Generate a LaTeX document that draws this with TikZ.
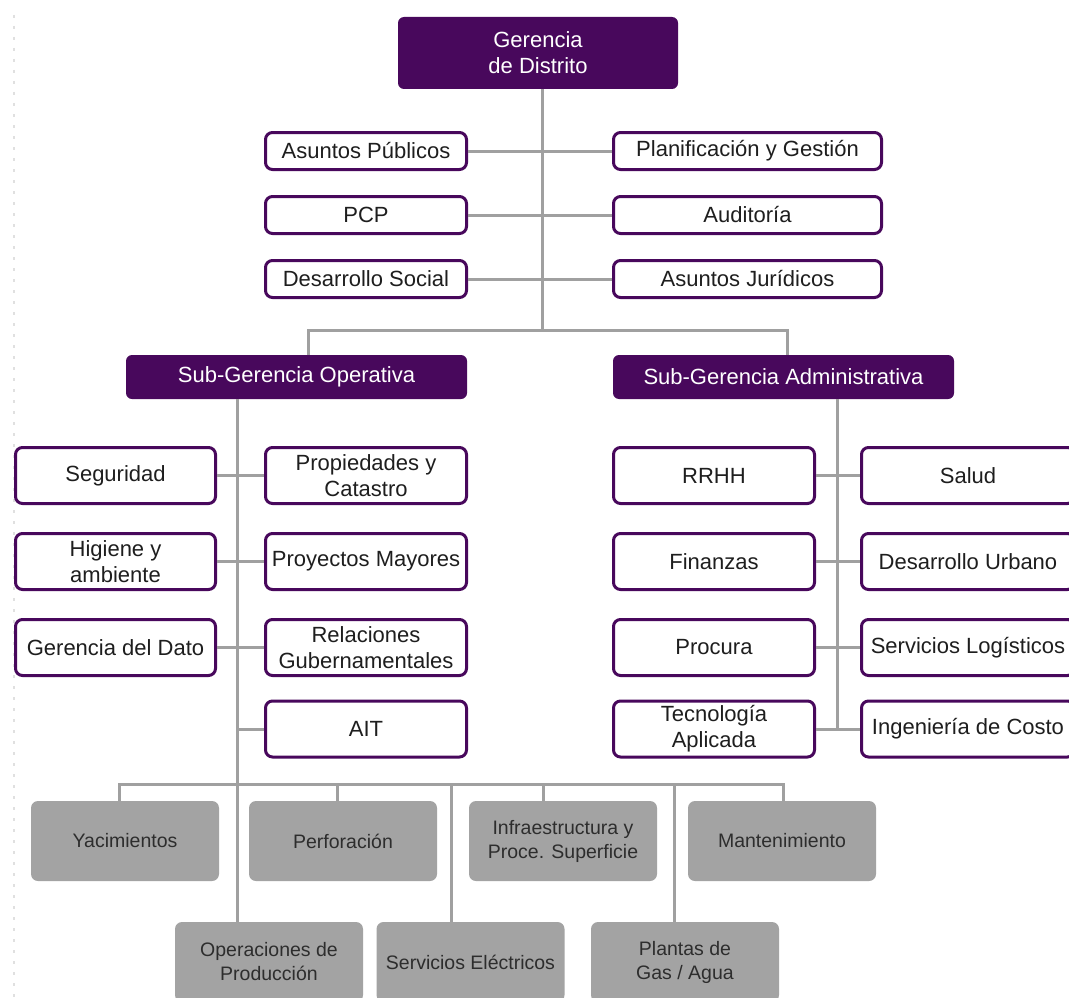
\documentclass[tikz,border=0pt]{standalone}
\usepackage{fontspec}
\setmainfont{Liberation Sans}
\definecolor{morado}{RGB}{72,8,92}
\definecolor{grislinea}{RGB}{160,160,160}
\definecolor{griscaja}{RGB}{163,163,163}
\definecolor{texto}{RGB}{30,30,30}
\definecolor{textogris}{RGB}{45,45,45}
\begin{document}
\begin{tikzpicture}[x=1pt,y=-1pt]
            \tikzstyle{jefe}=[rectangle,rounded corners=6pt,fill=morado,text=white,inner sep=0pt,align=center,font=\fontsize{22}{26}\selectfont]
            \tikzstyle{unidad}=[rectangle,rounded corners=7pt,draw=morado,line width=3pt,fill=white,text=texto,inner sep=0pt,align=center,font=\fontsize{22}{26}\selectfont]
            \tikzstyle{gerencia}=[rectangle,rounded corners=7pt,fill=griscaja,text=textogris,inner sep=0pt,align=center,minimum width=188,minimum height=80,font=\fontsize{19.5}{24}\selectfont]
            \tikzstyle{linea}=[line width=3pt,grislinea]
            \useasboundingbox (0,0) rectangle (1069,998);
            \clip (0,0) rectangle (1069,998);
            \fill[white] (0,0) rectangle (1069,998);
            \draw[line width=1.2pt,black!12,dash pattern=on 3pt off 8pt] (14,15) -- (14,998);
            \node[jefe,minimum width=280,minimum height=72] (gd) at (538,53) {Gerencia\\de Distrito};
            \node[unidad,minimum width=201,minimum height=37] (ap) at (366,151) {Asuntos Públicos};
            \node[unidad,minimum width=201,minimum height=37] (pcp) at (366,215) {PCP};
            \node[unidad,minimum width=201,minimum height=37] (ds) at (366,279) {Desarrollo Social};
            \node[unidad,minimum width=268,minimum height=37] (pg) at (747.5,151) {Planificación y Gestión};
            \node[unidad,minimum width=268,minimum height=37] (aud) at (747.5,215) {Auditoría};
            \node[unidad,minimum width=268,minimum height=37] (aj) at (747.5,279) {Asuntos Jurídicos};
            \node[jefe,minimum width=341,minimum height=44] (sgo) at (296.5,377) {Sub-Gerencia Operativa};
            \node[jefe,minimum width=341,minimum height=44] (sga) at (783.5,377) {Sub-Gerencia Administrativa};
            \node[unidad,minimum width=200,minimum height=56] (seg) at (115.5,475.5) {Seguridad};
            \node[unidad,minimum width=200,minimum height=56] (hig) at (115.5,561.5) {Higiene y\\ambiente};
            \node[unidad,minimum width=200,minimum height=56] (gdd) at (115.5,647.5) {Gerencia del Dato};
            \node[unidad,minimum width=201,minimum height=56] (prop) at (366,475.5) {Propiedades y\\Catastro};
            \node[unidad,minimum width=201,minimum height=56] (pm) at (366,561.5) {Proyectos Mayores};
            \node[unidad,minimum width=201,minimum height=56] (rg) at (366,647.5) {Relaciones\\Gubernamentales};
            \node[unidad,minimum width=201,minimum height=56] (ait) at (366,729) {AIT};
            \node[unidad,minimum width=201,minimum height=56] (rrhh) at (714,475.5) {RRHH};
            \node[unidad,minimum width=201,minimum height=56] (fin) at (714,561.5) {Finanzas};
            \node[unidad,minimum width=201,minimum height=56] (proc) at (714,647.5) {Procura};
            \node[unidad,minimum width=201,minimum height=56] (ta) at (714,729) {Tecnología\\Aplicada};
            \node[unidad,minimum width=213,minimum height=56] (sal) at (968,475.5) {Salud};
            \node[unidad,minimum width=213,minimum height=56] (du) at (968,561.5) {Desarrollo Urbano};
            \node[unidad,minimum width=213,minimum height=56] (sl) at (968,647.5) {Servicios Logísticos};
            \node[unidad,minimum width=213,minimum height=56] (ic) at (968,729) {Ingeniería de Costo};
            \node[gerencia] (yac) at (125,841) {Yacimientos};
            \node[gerencia] (per) at (343,841) {Perforación};
            \node[gerencia] (inf) at (563,841) {Infraestructura y\\Proce. Superficie};
            \node[gerencia] (man) at (782,841) {Mantenimiento};
            \node[gerencia] (op) at (269,962) {Operaciones de\\Producción};
            \node[gerencia] (se) at (470.5,962) {Servicios Eléctricos};
            \node[gerencia] (pl) at (685,962) {Plantas de\\Gas / Agua};
            \coordinate (b0) at (542,330);
            \coordinate (b1) at (308,330);
            \coordinate (b2) at (787,330);
            \coordinate (v1) at (237,784);
            \coordinate (v2) at (837,784);
            \coordinate (h1) at (119,784);
            \coordinate (h2) at (783,784);
            \coordinate (h3) at (337,784);
            \coordinate (h4) at (543,784);
            \coordinate (h5) at (451,784);
            \coordinate (h6) at (674,784);
            \draw[linea] (gd.south -| b0) -- (b0);
            \draw[linea] (sgo.north -| b1) -- (b1) -- (b2) -- (sga.north -| b2);
            \draw[linea] (ap) -- (pg);
            \draw[linea] (pcp) -- (aud);
            \draw[linea] (ds) -- (aj);
            \draw[linea] (sgo.south -| v1) -- (op.north -| v1);
            \draw[linea] (seg) -- (prop);
            \draw[linea] (hig) -- (pm);
            \draw[linea] (gdd) -- (rg);
            \draw[linea] (ait.west) -- (ait.west -| v1);
            \draw[linea] (sga.south -| v2) -- (ta.east -| v2);
            \draw[linea] (rrhh) -- (sal);
            \draw[linea] (fin) -- (du);
            \draw[linea] (proc) -- (sl);
            \draw[linea] (ta) -- (ic);
            \draw[linea] (yac.north -| h1) -- (h1) -- (h2) -- (man.north -| h2);
            \draw[linea] (h3) -- (per.north -| h3);
            \draw[linea] (h4) -- (inf.north -| h4);
            \draw[linea] (h5) -- (se.north -| h5);
            \draw[linea] (h6) -- (pl.north -| h6);
\end{tikzpicture}
\end{document}
